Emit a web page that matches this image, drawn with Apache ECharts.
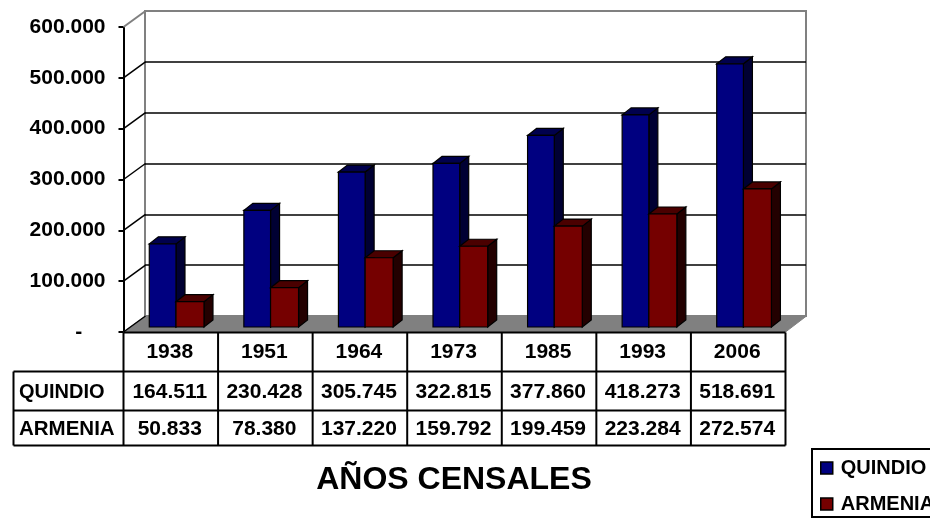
<!DOCTYPE html>
<html>
<head>
<meta charset="UTF-8">
<title>Años censales</title>
<script src="https://cdn.jsdelivr.net/npm/echarts@6/dist/echarts.min.js"></script>
<style>
html, body { margin: 0; padding: 0; background: #fff; }
#chart { width: 930px; height: 518px; overflow: hidden; }
</style>
</head>
<body>
<div id="chart"></div>
<script>
var years = ['1938', '1951', '1964', '1973', '1985', '1993', '2006'];
var quindio = [164511, 230428, 305745, 322815, 377860, 418273, 518691];
var armenia = [50833, 78380, 137220, 159792, 199459, 223284, 272574];
var yTicks = [0, 100000, 200000, 300000, 400000, 500000, 600000];

var FONT = '"Liberation Sans", Arial, sans-serif';

function fmt(n) {
	return String(n).replace(/\B(?=(\d{3})+$)/g, '.');
}

// una barra "3D": cara lateral, cara superior y frente
function bar3d(left, width, front, top, side) {
	return function (params, api) {
		var c = api.coord([api.value(0), api.value(1)]);
		var base = api.coord([api.value(0), 0]);
		var x = c[0] + left, y = c[1] - 4.5, w = width, b = base[1] - 5;
		var dx = 9, dy = -7;
		var st = { stroke: '#000', lineWidth: 1.2 };
		return {
			type: 'group',
			children: [
				{ type: 'polygon', shape: { points: [[x + w, y], [x + w + dx, y + dy], [x + w + dx, b + dy], [x + w, b]] },
					style: Object.assign({ fill: side }, st) },
				{ type: 'polygon', shape: { points: [[x, y], [x + dx, y + dy], [x + w + dx, y + dy], [x + w, y]] },
					style: Object.assign({ fill: top }, st) },
				{ type: 'rect', shape: { x: x, y: y, width: w, height: b - y },
					style: Object.assign({ fill: front }, st) }
			]
		};
	};
}

// tabla de datos debajo del eje
var tableX = [];
for (var i = 0; i <= 7; i++) tableX.push(123.5 + i * 94.57);
var graphics = [];
function hline(x1, x2, y) {
	graphics.push({ type: 'line', shape: { x1: x1, y1: y, x2: x2, y2: y }, style: { stroke: '#000', lineWidth: 2 }, z: 20 });
}
function vline(x, y1, y2) {
	graphics.push({ type: 'line', shape: { x1: x, y1: y1, x2: x, y2: y2 }, style: { stroke: '#000', lineWidth: 2 }, z: 20 });
}
function cell(t, x, y, align, size) {
	graphics.push({ type: 'text', x: x, y: y, z: 21,
		style: { text: t, font: 'bold ' + (size || 21) + 'px ' + FONT, fill: '#000', align: align || 'center', verticalAlign: 'middle' } });
}
hline(123.5, 785.5, 332.5);
hline(13.5, 785.5, 371.5);
hline(13.5, 785.5, 410.5);
hline(13.5, 785.5, 445.5);
vline(13.5, 371.5, 445.5);
tableX.forEach(function (x) { vline(x, 332.5, 445.5); });
years.forEach(function (y, i) {
	var cx = (tableX[i] + tableX[i + 1]) / 2 - 1;
	cell(y, cx, 352);
	cell(fmt(quindio[i]), cx, 392);
	cell(fmt(armenia[i]), cx, 429);
});
cell('QUINDIO', 19, 392, 'left', 20);
cell('ARMENIA', 19, 429, 'left', 20.5);

var chart = echarts.init(document.getElementById('chart'));
chart.setOption({
	animation: false,
	textStyle: { fontFamily: FONT },
	title: {
		text: 'AÑOS CENSALES',
		left: 449, top: 459, textAlign: 'center',
		textStyle: { fontSize: 32, fontWeight: 'bold', color: '#000', fontFamily: FONT }
	},
	legend: {
		orient: 'vertical',
		left: 812, top: 449,
		padding: [9, 8, 3, 8],
		itemWidth: 12, itemHeight: 12, itemGap: 16,
		icon: 'rect',
		borderColor: '#000', borderWidth: 2,
		itemStyle: { borderColor: '#000', borderWidth: 1.5 },
		textStyle: { fontSize: 20, fontWeight: 'bold', color: '#000', fontFamily: FONT, padding: [0, 0, 0, 3] },
		data: ['QUINDIO', 'ARMENIA']
	},
	grid: [
		{ left: 123.5, right: 144.5, top: 27, bottom: 186 },
		{ left: 145, right: 124, top: 11, bottom: 202, show: true, backgroundColor: '#fff', borderColor: '#808080', borderWidth: 2 }
	],
	xAxis: [
		{ type: 'category', gridIndex: 0, data: years, axisLine: { show: false }, axisTick: { show: false }, axisLabel: { show: false } },
		{ type: 'category', gridIndex: 1, data: years, axisLine: { show: false }, axisTick: { show: false }, axisLabel: { show: false } }
	],
	yAxis: [
		{
			type: 'value', gridIndex: 0, min: 0, max: 600000, interval: 100000,
			axisLine: { show: true, lineStyle: { color: '#000', width: 2 } },
			axisTick: { show: true, length: 5, lineStyle: { color: '#000', width: 2 } },
			splitLine: { show: false },
			axisLabel: {
				margin: 18, fontSize: 21, fontWeight: 'bold', color: '#000', fontFamily: FONT,
				padding: [3, 0, 0, 0],
				formatter: function (v) { return v === 0 ? '-    ' : fmt(v); }
			}
		},
		{
			type: 'value', gridIndex: 1, min: 0, max: 600000, interval: 100000,
			axisLine: { show: false }, axisTick: { show: false }, axisLabel: { show: false },
			splitLine: { show: true, showMaxLine: false, showMinLine: false, lineStyle: { color: '#000', width: 1.5 } }
		}
	],
	series: [
		{
			// piso gris
			type: 'custom', xAxisIndex: 0, yAxisIndex: 0, z: 1, silent: true,
			data: [0],
			renderItem: function (params) {
				var g = params.coordSys, b = g.y + g.height, r = g.x + g.width;
				return { type: 'polygon', shape: { points: [[g.x, b], [g.x + 22, b - 16], [r + 21, b - 16], [r, b]] },
					style: { fill: '#808080', stroke: '#808080' } };
			}
		},
		{
			// diagonales de la pared izquierda
			type: 'custom', xAxisIndex: 0, yAxisIndex: 0, z: 1, silent: true,
			data: yTicks.map(function (v) { return [0, v]; }),
			renderItem: function (params, api) {
				var g = params.coordSys, y = api.coord([0, api.value(1)])[1];
				var isTop = api.value(1) === 600000;
				return { type: 'line', shape: { x1: g.x, y1: y, x2: g.x + 22, y2: y - 16 },
					style: { stroke: isTop ? '#808080' : '#000', lineWidth: isTop ? 2 : 1.5 } };
			}
		},
		{
			name: 'QUINDIO', type: 'custom', xAxisIndex: 0, yAxisIndex: 0, z: 3,
			itemStyle: { color: '#000080' },
			data: quindio.map(function (v, i) { return [i, v]; }),
			renderItem: bar3d(-21.5, 26.7, '#000080', '#00004d', '#000033')
		},
		{
			name: 'ARMENIA', type: 'custom', xAxisIndex: 0, yAxisIndex: 0, z: 4,
			itemStyle: { color: '#750000' },
			data: armenia.map(function (v, i) { return [i, v]; }),
			renderItem: bar3d(5.2, 28, '#750000', '#4a0000', '#230000')
		}
	],
	graphic: graphics
});
</script>
</body>
</html>
